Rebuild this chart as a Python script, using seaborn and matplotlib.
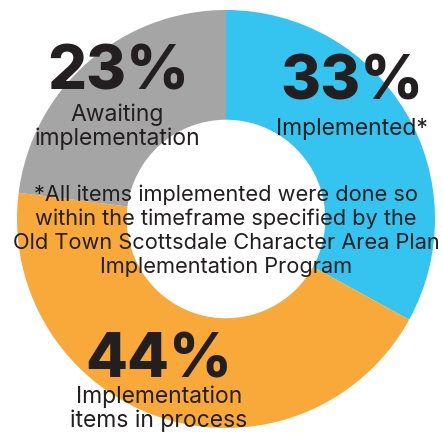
import matplotlib
matplotlib.use("Agg")
import matplotlib.pyplot as plt
import seaborn as sns

# Status shares of the Character Area Plan items
statuses = ["Implemented*", "Implementation\nitems in process", "Awaiting\nimplementation"]
shares = [33, 44, 23]
share_labels = ["33%", "44%", "23%"]
colors = ["#35C3F0", "#F9A83A", "#A5A5A5"]
footnote = ("*All items implemented were done so\n"
            "within the timeframe specified by the\n"
            "Old Town Scottsdale Character Area Plan\n"
            "Implementation Program")

sns.set_theme(style="white")
plt.rcParams["font.family"] = ["Inter", "DejaVu Sans"]
ink = "#231F20"

W, H, DPI = 443, 433, 100
fig = plt.figure(figsize=(W / DPI, H / DPI), dpi=DPI)
cx, cy, r = 226, 219, 209  # ring centre and outer radius in pixels
ax = fig.add_axes([(cx - r) / W, (H - cy - r) / H, 2 * r / W, 2 * r / H])
ax.pie(shares, colors=sns.color_palette(colors), startangle=90, counterclock=False,
       radius=1.0, wedgeprops=dict(width=0.525, linewidth=0))
ax.set_xlim(-1, 1)
ax.set_ylim(-1, 1)
ax.set_aspect("equal")
ax.axis("off")


def at(px, py):
    return (px - cx) / r, (cy - py) / r


# big percentage figures
big = dict(fontsize=44, fontweight="heavy", color=ink, ha="center", va="baseline")
for lab, (px, py) in zip(share_labels, [(352, 100), (159, 377), (118, 90)]):
    ax.text(*at(px, py), lab, **big)

# category captions
cap = dict(fontsize=16.5, color=ink, ha="center", va="center", linespacing=1.06)
for lab, (px, py) in zip(statuses, [(352, 129), (159, 409), (117, 127)]):
    ax.text(*at(px, py), lab, **cap)

ax.text(*at(226, 231), footnote, fontsize=15.7, color=ink, ha="center", va="center",
        linespacing=1.22)

fig.savefig("out.png", dpi=DPI)
